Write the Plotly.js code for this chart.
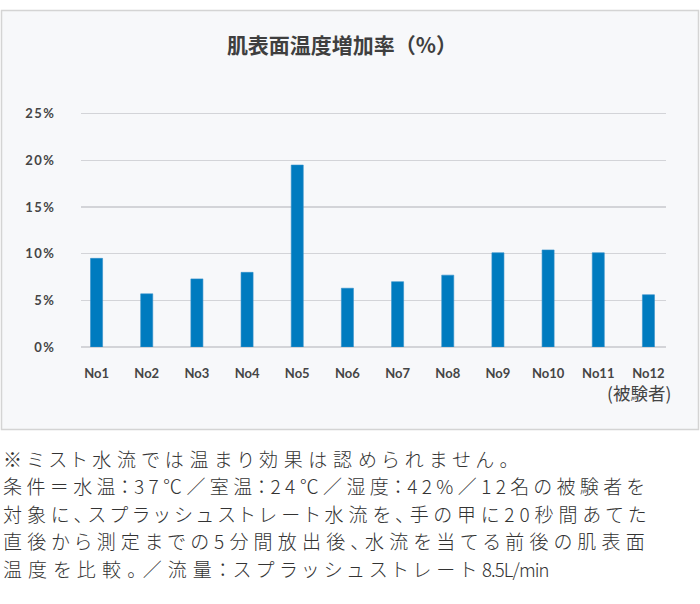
<!DOCTYPE html>
<html>
<head>
<meta charset="utf-8">
<script src="https://cdn.plot.ly/plotly-3.0.1.min.js"></script>
<style>
  html, body { margin: 0; padding: 0; background: #ffffff; }
  #chart { width: 700px; height: 604px; }
  #chart .ytick text { letter-spacing: 1.5px; }
</style>
</head>
<body>
<div id="chart"></div>
<script>
// ---- data ----
const subjects = ['No1', 'No2', 'No3', 'No4', 'No5', 'No6', 'No7', 'No8', 'No9', 'No10', 'No11', 'No12'];
const increaseRate = [9.5, 5.7, 7.3, 8.0, 19.5, 6.3, 7.0, 7.7, 10.1, 10.4, 10.1, 5.6];
const yTickValues = [0, 5, 10, 15, 20, 25];
const yTickLabels = ['0%', '5%', '10%', '15%', '20%', '25%'];
const chartTitle = '肌表面温度増加率（%）';
const xAxisNote = '(被験者)';
const noteLines = [
  '※ミスト水流では温まり効果は認められません。',
  '条件＝水温：37℃／室温：24℃／湿度：42%／12名の被験者を',
  '対象に、スプラッシュストレート水流を、手の甲に20秒間あてた',
  '直後から測定までの5分間放出後、水流を当てる前後の肌表面',
  '温度を比較。／流量：スプラッシュストレート<span style="font-size:18.5px;letter-spacing:-0.9px">8.5L/min</span>'
];
// per-line tracking (style only)
const noteTracking = [5.7, 4.4, 5.0, 5.2, 6.1];

// ---- layout helpers (pixel -> paper) ----
const W = 700, H = 604;
const ML = 81, MR = 34, MT = 110, MB = 257;
const PL = ML, PR = W - MR, PT = MT, PB = H - MB;
const px2x = p => (p - PL) / (PR - PL);
const py2y = p => (PB - p) / (PB - PT);

const trace = {
  type: 'bar',
  x: subjects,
  y: increaseRate,
  width: 0.24,
  marker: { color: '#007bbf', line: { color: '#2f8fca', width: 0.6 } },
  hoverinfo: 'x+y'
};

const cjk = '"Noto Sans CJK JP", "Noto Sans", sans-serif';
const latin = 'Lato, "Noto Sans", sans-serif';

const annotations = [
  {
    xref: 'paper', yref: 'paper',
    x: px2x(673), y: py2y(392),
    xanchor: 'right', yanchor: 'middle',
    text: xAxisNote, showarrow: false,
    font: { family: cjk, size: 17.5, color: '#444444' }
  }
];
noteLines.forEach((t, i) => {
  annotations.push({
    xref: 'paper', yref: 'paper',
    x: px2x(1), y: py2y(458 + i * 27.6),
    xanchor: 'left', yanchor: 'middle', align: 'left',
    text: t, showarrow: false,
    font: { family: cjk, size: 19, color: '#333333', weight: 300 }
  });
});

const layout = {
  width: W, height: H,
  margin: { l: ML, r: MR, t: MT, b: MB, pad: 0 },
  paper_bgcolor: '#ffffff',
  plot_bgcolor: 'rgba(0,0,0,0)',
  showlegend: false,
  title: {
    text: chartTitle,
    x: px2x(342), xref: 'paper', xanchor: 'center',
    y: 1 - 46 / H, yref: 'container', yanchor: 'middle',
    font: { family: cjk, size: 21, color: '#3f3f3f', weight: 700 }
  },
  xaxis: {
    type: 'category',
    range: [-0.31, 11.35],
    showgrid: false, zeroline: false, showline: false,
    ticks: 'outside', ticklen: 14, tickcolor: 'rgba(0,0,0,0)',
    tickfont: { family: latin, size: 13, color: '#454545', weight: 700 },
    fixedrange: true
  },
  yaxis: {
    range: [0, 25.4],
    tickvals: yTickValues, ticktext: yTickLabels,
    showgrid: true, gridcolor: '#d3d4d8', gridwidth: 1.5,
    zeroline: true, zerolinecolor: '#d3d4d8', zerolinewidth: 1.5,
    showline: false,
    ticks: 'outside', ticklen: 22, tickcolor: 'rgba(0,0,0,0)',
    tickfont: { family: latin, size: 13, color: '#454545', weight: 700 },
    fixedrange: true
  },
  shapes: [
    {
      type: 'rect', xref: 'paper', yref: 'paper', layer: 'below',
      x0: px2x(1.5), x1: px2x(698.5), y0: py2y(429.5), y1: py2y(10.5),
      line: { color: '#d4d4d4', width: 1.5 },
      fillcolor: '#f7f8fa'
    }
  ],
  annotations: annotations,
  bargap: 0.5
};

Plotly.newPlot('chart', [trace], layout, { displayModeBar: false, staticPlot: true }).then(gd => {
  // apply per-line tracking and proportional punctuation to the note lines
  gd.querySelectorAll('g.annotation').forEach(g => {
    const idx = +g.getAttribute('data-index');
    if (idx >= 1 && idx <= noteLines.length) {
      const txt = g.querySelector('text');
      if (txt) {
        txt.style.letterSpacing = noteTracking[idx - 1] + 'px';
        txt.style.fontFeatureSettings = '"palt"';
      }
    }
  });
});
</script>
</body>
</html>
